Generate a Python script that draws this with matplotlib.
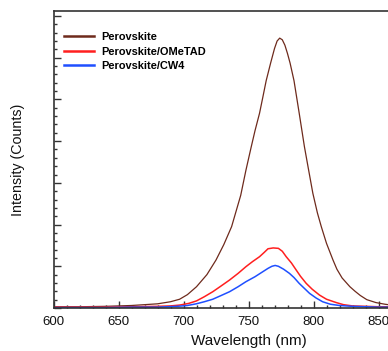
import matplotlib
matplotlib.use("Agg")
import matplotlib.pyplot as plt
from matplotlib.ticker import MultipleLocator, NullFormatter

plt.rcParams['font.family'] = ['Liberation Sans', 'DejaVu Sans']

# Wavelengths (nm) and intensities (arbitrary units)
wl_brown = [600, 620, 640, 660, 670, 680, 690, 697, 703, 710, 718, 725, 731, 737, 744, 748,
            752, 755, 758.5, 761, 763.6, 767, 770, 772, 774, 776, 778, 780, 782, 785, 789,
            793, 796, 799.5, 803, 806, 810, 815, 818, 822, 828, 832, 836, 841, 848, 855, 860]
perovskite = [0.03, 0.03, 0.04, 0.06, 0.08, 0.10, 0.15, 0.21, 0.32, 0.51, 0.80, 1.15, 1.52,
              1.95, 2.70, 3.30, 3.85, 4.25, 4.67, 5.05, 5.45, 5.87, 6.22, 6.40, 6.47, 6.43,
              6.30, 6.10, 5.87, 5.45, 4.67, 3.87, 3.35, 2.75, 2.28, 1.95, 1.55, 1.15, 0.93,
              0.72, 0.51, 0.40, 0.30, 0.20, 0.13, 0.09, 0.07]

wl_red = [600, 640, 660, 680, 690, 697, 704, 710, 716, 722.5, 729, 735.4, 742, 748, 753,
          758.5, 762, 765, 769, 773, 776, 779, 783, 786.7, 790, 794.4, 799, 804.6, 810,
          817.5, 823, 830, 840, 850, 860]
perovskite_ometad = [0.02, 0.02, 0.03, 0.04, 0.05, 0.07, 0.11, 0.17, 0.27, 0.39, 0.53, 0.67,
                     0.83, 0.99, 1.11, 1.23, 1.33, 1.42, 1.44, 1.43, 1.36, 1.23, 1.08, 0.91,
                     0.76, 0.59, 0.45, 0.31, 0.21, 0.13, 0.08, 0.05, 0.04, 0.03, 0.03]

wl_blue = [600, 640, 660, 680, 695, 703, 709.8, 716, 722.5, 729, 735.4, 742, 748, 755, 761,
           765, 768, 770.5, 773, 777, 781.5, 785, 789, 793, 797, 802, 807, 813, 820, 830,
           840, 850, 860]
perovskite_cw4 = [0.01, 0.01, 0.02, 0.02, 0.04, 0.06, 0.10, 0.15, 0.21, 0.30, 0.39, 0.51,
                  0.63, 0.75, 0.87, 0.95, 1.00, 1.02, 1.00, 0.93, 0.83, 0.73, 0.59, 0.47,
                  0.35, 0.24, 0.15, 0.09, 0.06, 0.04, 0.03, 0.02, 0.02]

labels = ["Perovskite", "Perovskite/OMeTAD", "Perovskite/CW4"]
colors = ["#6e2a1c", "#ff1f1f", "#1f4fff"]

W, H = 388, 351
fig = plt.figure(figsize=(W / 100, H / 100), dpi=100)
left_px, bottom_px, top_px = 53.5, 308, 11
xmin, xmax = 600, 900
px_per_nm = 1.3
ax = fig.add_axes([left_px / W, 1 - bottom_px / H,
                   (xmax - xmin) * px_per_nm / W, (bottom_px - top_px) / H])

ax.plot(wl_brown, perovskite, color=colors[0], lw=0.9, label=labels[0])
ax.plot(wl_red, perovskite_ometad, color=colors[1], lw=1.1, label=labels[1])
ax.plot(wl_blue, perovskite_cw4, color=colors[2], lw=1.1, label=labels[2])

ax.set_xlim(xmin, xmax)
ax.set_ylim(0, 7.12)
ax.xaxis.set_major_locator(MultipleLocator(50))
ax.xaxis.set_minor_locator(MultipleLocator(10))
ax.yaxis.set_major_locator(MultipleLocator(1))
ax.yaxis.set_minor_locator(MultipleLocator(0.2))
ax.yaxis.set_major_formatter(NullFormatter())
ax.tick_params(which='both', direction='in', color='#333333', width=1.0)
ax.tick_params(which='major', length=5)
ax.tick_params(which='minor', length=2.5)
ax.tick_params(axis='x', labelsize=9.5, pad=5.5, labelcolor='#111111')
ax.tick_params(right=False, top=False)
for s in ax.spines.values():
    s.set_color('#333333')
    s.set_linewidth(1.2)
ax.spines['right'].set_visible(False)

ax.set_xlabel("Wavelength (nm)", fontsize=11, color='#111111', labelpad=4.5)
ax.set_ylabel("Intensity (Counts)", fontsize=10.3, color='#111111', labelpad=17)

leg = ax.legend(loc='upper left',
                bbox_to_anchor=(10 / ((xmax - xmin) * px_per_nm), 1 - 21 / (bottom_px - top_px)),
                frameon=False, prop={'weight': 'bold', 'size': 7.9},
                handlelength=2.8, handletextpad=0.6, labelspacing=0.42, borderaxespad=0, borderpad=0)
for line in leg.get_lines():
    line.set_linewidth(1.8)

fig.savefig("out.png", dpi=100)
